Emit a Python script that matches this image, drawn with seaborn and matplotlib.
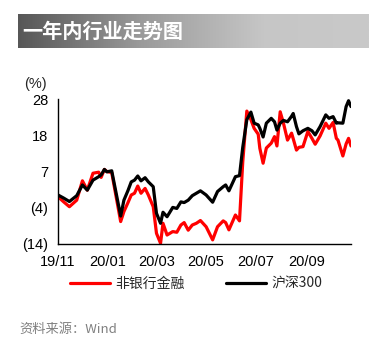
import numpy as np
import pandas as pd
import matplotlib
matplotlib.use("Agg")
import matplotlib.pyplot as plt
from matplotlib.colors import LinearSegmentedColormap
from matplotlib.ticker import FuncFormatter, FixedLocator
import matplotlib.dates as mdates
import seaborn as sns

# Cumulative one-year change (%) of the non-bank financials index vs CSI 300
dates = [
    "2019-11-01", "2019-11-08", "2019-11-15", "2019-11-24", "2019-12-01", "2019-12-07",
    "2019-12-14", "2019-12-21", "2019-12-24", "2019-12-28", "2019-12-31", "2020-01-06",
    "2020-01-17", "2020-01-21", "2020-01-26", "2020-01-30", "2020-02-03", "2020-02-07",
    "2020-02-11", "2020-02-16", "2020-02-20", "2020-02-26", "2020-03-01", "2020-03-06",
    "2020-03-09", "2020-03-14", "2020-03-21", "2020-03-26", "2020-03-31", "2020-04-04",
    "2020-04-09", "2020-04-14", "2020-04-19", "2020-04-24", "2020-05-01", "2020-05-09",
    "2020-05-15", "2020-05-22", "2020-05-25", "2020-05-29", "2020-06-06", "2020-06-11",
    "2020-06-15", "2020-06-20", "2020-06-25", "2020-06-29", "2020-07-04", "2020-07-06",
    "2020-07-10", "2020-07-14", "2020-07-20", "2020-07-24", "2020-07-27", "2020-07-31",
    "2020-08-04", "2020-08-09", "2020-08-14", "2020-08-16", "2020-08-20", "2020-08-23",
    "2020-08-28", "2020-09-03", "2020-09-08", "2020-09-12", "2020-09-18", "2020-09-25",
    "2020-09-29", "2020-10-04", "2020-10-08", "2020-10-10", "2020-10-16", "2020-10-20",
    "2020-10-23", "2020-10-26",
]
non_bank_fin = [
    -0.3, -1.8, -3.2, -1.3, 4.3, 1.6, 6.5, 6.8, 5.3, 7.6, 7.0, 6.7,
    -7.5, -4.6, -2.0, 0.2, 0.7, 2.8, 0.7, 2.1, 0.2, -3.2, -10.9, -13.8,
    -8.0, -11.4, -10.4, -10.6, -8.5, -7.8, -10.0, -8.5, -8.0, -7.2, -9.0, -12.8,
    -9.0, -7.3, -7.8, -9.9, -5.6, -7.3, 9.8, 24.5, 22.0, 19.5, 17.8, 13.7,
    9.4, 13.8, 15.2, 17.1, 14.4, 24.3, 21.0, 16.1, 18.1, 16.5, 13.2, 14.0,
    14.2, 18.6, 16.6, 14.9, 17.3, 21.0, 19.5, 21.2, 16.6, 16.1, 11.5, 15.0,
    16.6, 14.4,
]
csi300 = [
    0.2, -0.7, -1.7, 0.0, 3.1, 1.6, 4.5, 5.5, 6.0, 7.6, 6.9, 7.2,
    -5.9, -1.3, 1.5, 4.0, 4.5, 5.7, 4.3, 5.2, 4.0, 2.6, -5.1, -8.0,
    -4.8, -6.1, -3.4, -3.7, -1.8, -2.0, -1.3, 0.0, 0.7, 1.4, 0.2, -1.9,
    1.2, 2.6, 3.1, 1.4, 5.5, 5.8, 14.0, 22.0, 24.2, 21.0, 20.5, 19.5,
    17.0, 21.0, 22.4, 21.4, 19.0, 21.0, 21.8, 21.4, 23.0, 23.8, 20.0, 17.9,
    18.8, 19.5, 18.8, 17.6, 20.0, 23.4, 22.4, 22.9, 21.0, 21.1, 21.0, 25.8,
    27.5, 25.8,
]
series_names = ["非银行金融", "沪深300"]
series_colors = ["#ff0000", "#000000"]
y_ticks = [-14, -3.5, 7, 17.5, 28]
x_tick_dates = ["2019-11-01", "2020-01-01", "2020-03-01", "2020-05-01", "2020-07-01", "2020-09-01"]
x_tick_labels = ["19/11", "20/01", "20/03", "20/05", "20/07", "20/09"]

df = pd.DataFrame({
    "date": pd.to_datetime(dates * 2),
    "value": non_bank_fin + csi300,
    "series": [series_names[0]] * len(dates) + [series_names[1]] * len(dates),
})

sns.set_theme(style="white")
plt.rcParams["font.family"] = ["Liberation Sans", "Noto Sans CJK SC", "DejaVu Sans"]
cjk = ["Noto Sans CJK SC", "DejaVu Sans"]

W, H = 386, 346
fig = plt.figure(figsize=(W / 100, H / 100), dpi=100)
fig.patch.set_facecolor("white")

def fx(px):
    return px / W

def fy(py):
    return 1 - py / H

# Header bar with grey gradient
hdr = fig.add_axes([fx(18), fy(48), fx(351), 34 / H])
grad_cmap = LinearSegmentedColormap.from_list(
    "hdr", [(0.0, "#575757"), (0.35, "#9a9a9a"), (0.7, "#c6c6c6"), (1.0, "#c9c9c9")])
hdr.imshow(np.linspace(0, 1, 256)[None, :], aspect="auto", cmap=grad_cmap,
           extent=[0, 1, 0, 1])
hdr.set_axis_off()
hdr.text(0.012, 0.5, "一年内行业走势图", color="white", fontsize=14.5,
         fontweight="bold", family=cjk, va="center", ha="left",
         transform=hdr.transAxes)

# Main chart
ax = fig.add_axes([fx(58), fy(244), fx(351 - 58), (244 - 99) / H])
sns.lineplot(data=df, x="date", y="value", hue="series", palette=series_colors,
             hue_order=series_names, estimator=None, linewidth=2.3, ax=ax,
             legend=False)
ax.set_xlim(pd.Timestamp(dates[0]), pd.Timestamp(dates[-1]))
ax.set_ylim(y_ticks[0], y_ticks[-1])
ax.yaxis.set_major_locator(FixedLocator(y_ticks))

def pct_fmt(v, _):
    n = int(abs(v) + 0.5)
    return f"({n})" if v < 0 else f"{n}"

ax.yaxis.set_major_formatter(FuncFormatter(pct_fmt))
ax.set_xticks(mdates.date2num(pd.to_datetime(x_tick_dates)))
ax.set_xticklabels(x_tick_labels)
ax.set_xlabel("")
ax.set_ylabel("")
for side in ["top", "right"]:
    ax.spines[side].set_visible(False)
for side in ["left", "bottom"]:
    ax.spines[side].set_color("black")
    ax.spines[side].set_linewidth(1.0)
ax.tick_params(axis="both", which="major", direction="out", length=4, width=1,
               color="black", labelsize=10.5, labelcolor="black", pad=3)
ax.tick_params(axis="x", pad=4)
ax.set_facecolor("white")
ax.grid(False)

fig.text(fx(35), fy(84), "(%)", fontsize=10.5, ha="center", va="center")

# Legend
handles = [plt.Line2D([], [], color=c, linewidth=2.3) for c in series_colors]
leg = fig.legend(handles, series_names, loc="center", bbox_to_anchor=(fx(196), fy(284)),
                 ncol=2, frameon=False, handlelength=2.9, handletextpad=0.35,
                 columnspacing=3.0, prop={"family": cjk, "size": 10})

fig.text(fx(19), fy(329), "资料来源：Wind", fontsize=9.5, color="#808080",
         family=cjk, ha="left", va="center")

fig.savefig("out.png", dpi=100, facecolor="white")
